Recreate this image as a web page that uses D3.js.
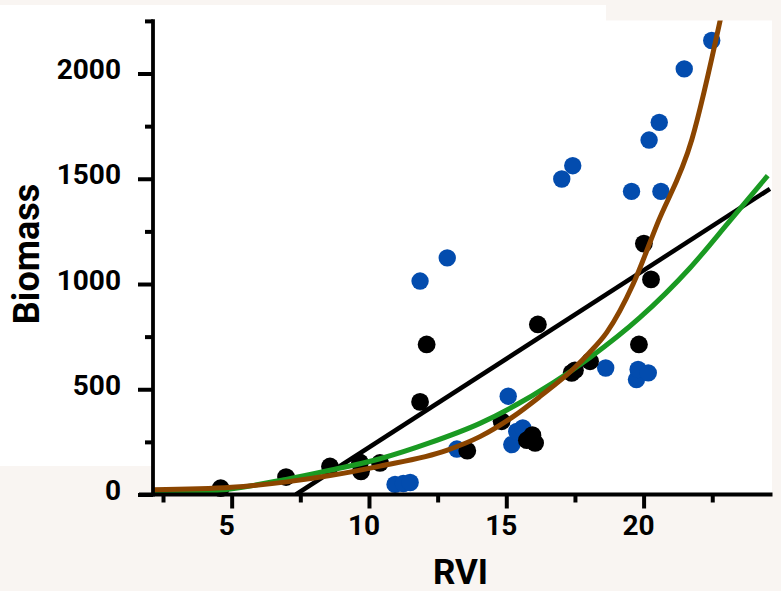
<!DOCTYPE html>
<html><head><meta charset="utf-8">
<script src="https://cdn.jsdelivr.net/npm/d3@7"></script>
<style>html,body{margin:0;padding:0;background:#f9f5f2;}svg{display:block;}</style>
</head><body>
<svg id="chart" width="781" height="591"></svg>
<script>
// ---- data ----
const blackX = [4.6, 6.98, 8.58, 9.67, 9.71, 10.4, 11.86, 12.1, 13.58, 14.83, 15.75, 15.95, 16.05, 16.15, 17.38, 17.5, 18.05, 19.83, 20.01, 20.27];
const blackY = [30, 83, 133, 152, 110, 150, 440, 713, 208, 348, 258, 282, 245, 808, 578, 590, 633, 713, 1192, 1022];
const blueX = [10.95, 11.25, 11.5, 11.86, 12.85, 13.2, 15.07, 15.2, 15.38, 15.6, 17.02, 17.42, 18.62, 19.56, 19.74, 19.8, 20.17, 20.2, 20.57, 20.63, 21.48, 22.48];
const blueY = [48, 52, 57, 1014, 1124, 216, 467, 237, 300, 316, 1499, 1562, 601, 1440, 546, 594, 578, 1684, 1768, 1440, 2022, 2157];
const linFitX = [7.34, 24.6];
const linFitY = [0, 1452];
const greenFitX = [2.15, 4.47, 6.98, 8.58, 10.4, 12.2, 14.04, 16.7, 18.04, 19.86, 21.68, 23.14, 24.52];
const greenFitY = [6, 19, 72, 115, 170, 245, 338, 530, 650, 840, 1075, 1300, 1515];
const brownFitX = [2.15, 5, 7, 8.58, 10.4, 12.83, 14.04, 15.25, 16.22, 17.43, 18.0, 18.66, 19.62, 20.48, 21.76, 22.85];
const brownFitY = [22, 34, 60, 90, 135, 210, 275, 370, 465, 595, 670, 770, 1000, 1280, 1688, 2290];
const xMajor = [5, 10, 15, 20];
const xMinor = [2.5, 7.5, 12.5, 17.5, 22.5];
const yMajor = [0, 500, 1000, 1500, 2000];
const yMinor = [250, 750, 1250, 1750, 2250];
const xTitle = "RVI";
const yTitle = "Biomass";

const svg = d3.select("#chart");
const bg = "#f9f5f2";
svg.append("rect").attr("width", 781).attr("height", 591).attr("fill", bg);
svg.append("rect").attr("x", 0).attr("y", 5).attr("width", 606).attr("height", 461).attr("fill", "#fff");

const x = d3.scaleLinear().domain([2.15, 24.65]).range([153.4, 771.3]);
const y = d3.scaleLinear().domain([0, 2250]).range([494.5, 20.9]);

svg.append("rect").attr("x", 153).attr("y", 20.5).attr("width", 619).attr("height", 474).attr("fill", "#fff");

svg.append("defs").append("clipPath").attr("id", "clip")
  .append("rect").attr("x", 153).attr("y", 20.5).attr("width", 620).attr("height", 474);

const font = "Roboto, 'DejaVu Sans', sans-serif";

// points
const plot = svg.append("g");
const blue = blueX.map((v, i) => ({x: v, y: blueY[i]}));
const black = blackX.map((v, i) => ({x: v, y: blackY[i]}));
plot.selectAll("circle.blue").data(blue).join("circle").attr("class", "blue")
  .attr("cx", d => x(d.x)).attr("cy", d => y(d.y)).attr("r", 8.7).attr("fill", "#034cae");
plot.selectAll("circle.black").data(black).join("circle").attr("class", "black")
  .attr("cx", d => x(d.x)).attr("cy", d => y(d.y)).attr("r", 8.9).attr("fill", "#000");

// fit lines
const lines = svg.append("g").attr("clip-path", "url(#clip)");
const lineLin = d3.line().x(d => x(d[0])).y(d => y(d[1]));
const lineSmooth = d3.line().x(d => x(d[0])).y(d => y(d[1])).curve(d3.curveMonotoneX);
lines.append("path").datum(d3.zip(linFitX, linFitY)).attr("d", lineLin)
  .attr("fill", "none").attr("stroke", "#000").attr("stroke-width", 4.5);
lines.append("path").datum(d3.zip(greenFitX, greenFitY)).attr("d", lineSmooth)
  .attr("fill", "none").attr("stroke", "#1a9a22").attr("stroke-width", 5);
lines.append("path").datum(d3.zip(brownFitX, brownFitY)).attr("d", lineSmooth)
  .attr("fill", "none").attr("stroke", "#8b4500").attr("stroke-width", 5);

// axes
const axY = 494.5, axX = 153;
const gxMin = svg.append("g").attr("transform", `translate(0,${axY})`)
  .call(d3.axisBottom(x).tickValues(xMinor).tickSize(8).tickSizeOuter(0).tickFormat(""));
const gxMaj = svg.append("g").attr("transform", `translate(0,${axY})`)
  .call(d3.axisBottom(x).tickValues(xMajor).tickSize(14).tickSizeOuter(0).tickFormat(d3.format("d")));
const gyMin = svg.append("g").attr("transform", `translate(${axX},0)`)
  .call(d3.axisLeft(y).tickValues(yMinor).tickSize(8).tickSizeOuter(0).tickFormat(""));
const gyMaj = svg.append("g").attr("transform", `translate(${axX},0)`)
  .call(d3.axisLeft(y).tickValues(yMajor).tickSize(15).tickSizeOuter(0).tickFormat(d3.format("d")));
[gxMin, gxMaj, gyMin, gyMaj].forEach(g => {
  g.select(".domain").remove();
  g.selectAll(".tick line").attr("stroke", "#000").attr("stroke-width", 4);
});
gxMaj.selectAll(".tick text").attr("y", 40.5).attr("dy", null).attr("x", -5.5)
  .attr("text-anchor", "middle").attr("font-family", font).attr("font-weight", 700)
  .attr("font-size", 28).attr("fill", "#000");
gyMaj.selectAll(".tick text").attr("x", -32).attr("dy", null).attr("y", 5)
  .attr("text-anchor", "end").attr("font-family", font).attr("font-weight", 700)
  .attr("font-size", 28).attr("fill", "#000");

svg.append("line").attr("x1", axX).attr("x2", axX).attr("y1", 19.3).attr("y2", 496.5)
  .attr("stroke", "#000").attr("stroke-width", 3.8);
svg.append("line").attr("x1", 139).attr("x2", 772.5).attr("y1", axY).attr("y2", axY)
  .attr("stroke", "#000").attr("stroke-width", 4);

// titles
svg.append("text").attr("x", 460.5).attr("y", 584).attr("text-anchor", "middle")
  .attr("font-family", font).attr("font-weight", 700).attr("font-size", 35).attr("fill", "#000").text(xTitle);
svg.append("text").attr("transform", "translate(38.5,254) rotate(-90)").attr("text-anchor", "middle")
  .attr("font-family", font).attr("font-weight", 700).attr("font-size", 36).attr("fill", "#000").text(yTitle);
</script>
</body></html>
